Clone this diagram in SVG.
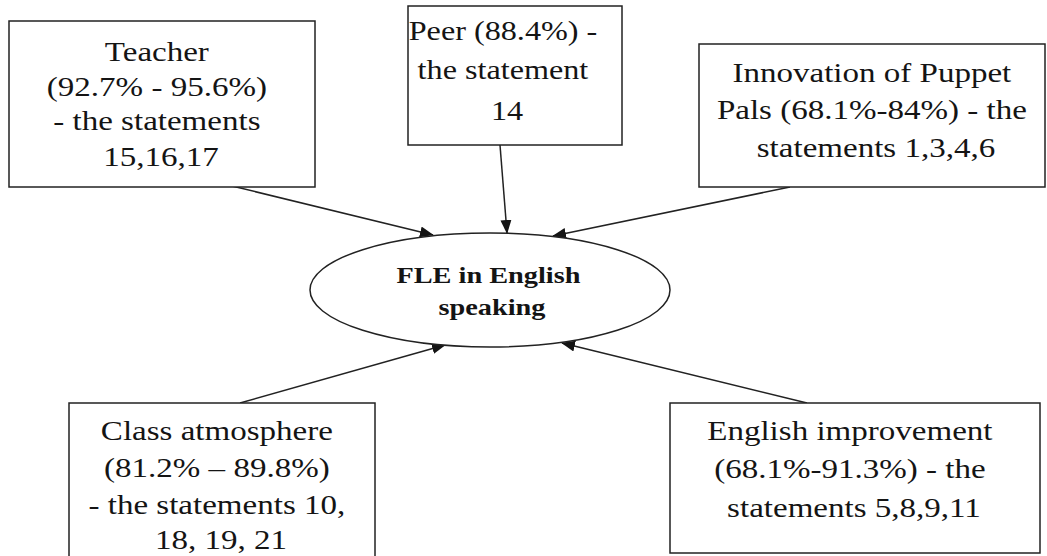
<svg xmlns="http://www.w3.org/2000/svg" width="1047" height="556" viewBox="0 0 1047 556">
  <style>
    .box { fill: #ffffff; stroke: #222222; stroke-width: 1.5; }
    .ell { fill: #ffffff; stroke: #222222; stroke-width: 1.5; }
    .lbl { font-family: "Liberation Serif", "Times New Roman", serif; font-size: 28px; fill: #141414; text-anchor: middle; }
    .core { font-family: "Liberation Serif", "Times New Roman", serif; font-size: 24px; font-weight: bold; fill: #141414; text-anchor: middle; }
    .edge { stroke: #222222; stroke-width: 1.5; fill: none; marker-end: url(#arr); }
  </style>
  <defs>
    <marker id="arr" markerUnits="userSpaceOnUse" markerWidth="14" markerHeight="12" refX="13" refY="5.5" orient="auto">
      <path d="M0,0 L14,5.5 L0,11 z" fill="#141414"/>
    </marker>
  </defs>
  <rect width="1047" height="556" fill="#ffffff"/>

  <g id="connectors">
    <line class="edge" x1="232" y1="186" x2="433" y2="235"/>
    <line class="edge" x1="500" y1="145" x2="507" y2="233"/>
    <line class="edge" x1="790" y1="187" x2="553" y2="236"/>
    <line class="edge" x1="240" y1="403" x2="445" y2="345"/>
    <line class="edge" x1="807" y1="403" x2="562" y2="343"/>
  </g>

  <g id="node-center">
    <ellipse class="ell" cx="490" cy="290" rx="180" ry="57"/>
    <text class="core" transform="translate(492,0) scale(1.18,1)">
      <tspan x="0" y="283">FLE in English</tspan>
      <tspan x="0" y="315">speaking</tspan>
    </text>
  </g>

  <g id="node-teacher">
    <rect class="box" x="9" y="21" width="306" height="166"/>
    <text class="lbl" transform="translate(161,0) scale(1.18,1)">
      <tspan x="0" y="61">Teacher</tspan>
      <tspan x="0" y="96">(92.7% - 95.6%)</tspan>
      <tspan x="0" y="130">- the statements</tspan>
      <tspan x="0" y="166">15,16,17</tspan>
    </text>
  </g>

  <g id="node-peer">
    <rect class="box" x="408" y="6" width="214" height="139"/>
    <text class="lbl" transform="translate(507,0) scale(1.15,1)">
      <tspan x="0" y="40">Peer (88.4%) -</tspan>
      <tspan x="0" y="79">the statement</tspan>
      <tspan x="0" y="120">14</tspan>
    </text>
  </g>

  <g id="node-innovation">
    <rect class="box" x="699" y="44" width="346" height="143"/>
    <text class="lbl" transform="translate(876,0) scale(1.18,1)">
      <tspan x="0" y="82">Innovation of Puppet</tspan>
      <tspan x="0" y="119">Pals (68.1%-84%) - the</tspan>
      <tspan x="0" y="157">statements 1,3,4,6</tspan>
    </text>
  </g>

  <g id="node-class">
    <rect class="box" x="69" y="403" width="306" height="160"/>
    <text class="lbl" transform="translate(221,0) scale(1.18,1)">
      <tspan x="0" y="440">Class atmosphere</tspan>
      <tspan x="0" y="477">(81.2% – 89.8%)</tspan>
      <tspan x="0" y="514">- the statements 10,</tspan>
      <tspan x="0" y="549">18, 19, 21</tspan>
    </text>
  </g>

  <g id="node-english">
    <rect class="box" x="670" y="403" width="370" height="150"/>
    <text class="lbl" transform="translate(854,0) scale(1.18,1)">
      <tspan x="0" y="440">English improvement</tspan>
      <tspan x="0" y="478">(68.1%-91.3%) - the</tspan>
      <tspan x="0" y="517">statements 5,8,9,11</tspan>
    </text>
  </g>
</svg>
